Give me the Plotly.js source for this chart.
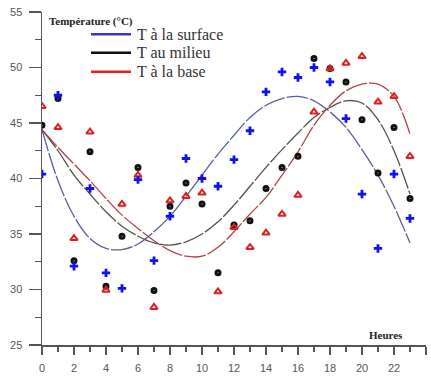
<!DOCTYPE html>
<html><head><meta charset="utf-8">
<script src="https://cdn.plot.ly/plotly-3.0.1.min.js"></script>
<style>html,body{margin:0;padding:0;background:#fff}#chart{width:431px;height:376px}</style>
</head><body><div id="chart"></div>
<script>
// Measured temperatures (°C) per hour
const hours = [0,1,2,3,4,5,6,7,8,9,10,11,12,13,14,15,16,17,18,19,20,21,22,23];
const tSurface = [40.4,47.5,32.1,39.1,31.5,30.1,39.9,32.6,36.6,41.8,40.0,39.3,41.7,44.3,47.8,49.6,49.1,50.0,48.7,45.4,38.6,33.7,40.4,36.4];
const tMilieu  = [44.8,47.2,32.6,42.4,30.3,34.8,41.0,29.9,37.5,39.6,37.7,31.5,35.8,36.2,39.1,41.0,42.0,50.8,49.9,48.7,45.3,40.5,44.6,38.2];
const tBase    = [46.5,44.6,34.6,44.2,29.95,37.7,40.3,28.4,38.0,38.4,38.7,29.8,35.6,33.8,35.1,36.8,38.5,46.0,49.9,50.4,51.0,46.9,47.4,42.0];
// Fitted curves
const fitHours   = [0,1,2,3,4,5,6,7,8,9,10,11,12,13,14,15,16,17,18,19,20,21,22,23];
const fitSurface = [44.4,39.8,36.6,34.6,33.7,33.6,34.1,35.2,36.6,38.4,40.3,42.2,43.9,45.5,46.6,47.2,47.4,47.0,46.0,44.6,42.6,40.3,37.5,34.2];
const fitMilieu  = [44.4,42.5,40.3,38.6,37.0,35.7,34.8,34.2,34.0,34.3,35.0,36.1,37.6,39.3,41.0,42.6,44.1,45.5,46.4,47.0,46.8,45.3,42.5,38.6];
const fitBase    = [44.4,42.8,41.3,39.8,38.2,36.7,35.5,34.4,33.5,33.0,33.0,33.8,35.2,36.8,38.3,40.3,42.4,44.8,46.6,47.9,48.5,48.5,47.4,44.0];
const seriesNames = ['T à la surface','T au milieu','T à la base'];
const yTitle = 'Température (°C)';
const xTitle = 'Heures';
const xTickVals = [0,2,4,6,8,10,12,14,16,18,20,22,24];
const yTickVals = [25,30,35,40,45,50,55];

const fitColors = ['#55609a','#505050','#a84848'];
const dotColors = ['#1010f0','#111111','#e02020'];
const legColors = ['#3535d0','#111111','#e02020'];

const traces = [];
[fitSurface, fitMilieu, fitBase].forEach((ys,i)=>{
  traces.push({x:fitHours, y:ys, mode:'lines', type:'scatter', showlegend:false, hoverinfo:'skip',
    line:{color:fitColors[i], width:1.3, shape:'spline', dash:'22px,2px'}});
});
traces.push({x:hours, y:tMilieu, mode:'markers', type:'scatter', showlegend:false,
  marker:{symbol:'circle-open', size:4, color:dotColors[1], line:{width:3, color:dotColors[1]}}});
traces.push({x:hours, y:tBase, mode:'markers', type:'scatter', showlegend:false,
  marker:{symbol:'triangle-up-open', size:6.5, color:dotColors[2], line:{width:2, color:dotColors[2]}}});
traces.push({x:hours, y:tSurface, mode:'markers', type:'scatter', showlegend:false,
  marker:{symbol:'cross', size:7, color:dotColors[0], line:{width:0}}});

const L=42, R=426, T=12, B=345;
const px = v => (v-L)/(R-L);
const py = v => (B-v)/(B-T);
const legY = [34.3, 52.7, 71.7];
const shapes = legY.map((yy,i)=>({type:'line', xref:'paper', yref:'paper', x0:px(91), x1:px(131), y0:py(yy), y1:py(yy),
  line:{color:legColors[i], width:2.5}}));
const annotations = legY.map((yy,i)=>({xref:'paper', yref:'paper', x:px(135), y:py(yy), xanchor:'left', yanchor:'middle',
  text:seriesNames[i], showarrow:false, font:{family:'Liberation Serif, Times New Roman, serif', size:16, color:'#333'}}));
annotations.push({xref:'paper', yref:'paper', x:px(47), y:py(22), xanchor:'left', yanchor:'middle', text:'<b>'+yTitle+'</b>', showarrow:false,
  font:{family:'Liberation Serif, serif', size:11, color:'#222'}});
annotations.push({xref:'paper', yref:'paper', x:px(385.5), y:py(335), xanchor:'center', yanchor:'middle', text:'<b>'+xTitle+'</b>', showarrow:false,
  font:{family:'Liberation Serif, serif', size:11, color:'#222'}});

const axisCommon = {showgrid:false, zeroline:false, showline:true, linecolor:'#555', linewidth:1.5,
  ticks:'outside', tickcolor:'#555', tickwidth:1.3, tickfont:{family:'Liberation Sans, Arial, sans-serif', size:11, color:'#555'}};

const layout = {
  width:431, height:376, margin:{l:L, r:431-R, t:T, b:376-B}, paper_bgcolor:'#fff', plot_bgcolor:'#fff',
  showlegend:false,
  xaxis:Object.assign({}, axisCommon, {range:[0,24], tickmode:'array', tickvals:xTickVals, ticklen:8, ticklabelstandoff:4,
    minor:{dtick:1, ticklen:5, ticks:'outside', tickcolor:'#555', tickwidth:1.3}}),
  yaxis:Object.assign({}, axisCommon, {range:[25,55], tickmode:'array', tickvals:yTickVals, ticklen:12, ticklabelstandoff:4,
    minor:{dtick:2.5, ticklen:6, ticks:'outside', tickcolor:'#555', tickwidth:1.3}}),
  shapes:shapes, annotations:annotations
};
Plotly.newPlot('chart', traces, layout, {displayModeBar:false, staticPlot:true});
</script>
</body></html>
